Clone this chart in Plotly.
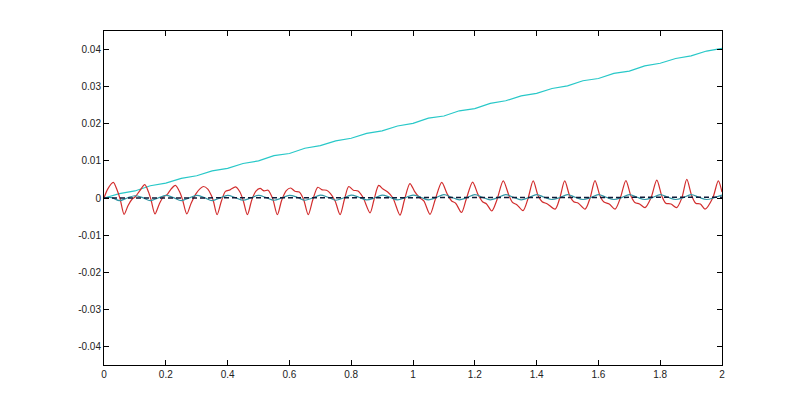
import plotly.graph_objects as go

# red signal (time, value)
red_t = [0.000, 0.012, 0.030, 0.042, 0.052, 0.065, 0.078, 0.090, 0.102, 0.116,
         0.132, 0.144, 0.152, 0.165, 0.179, 0.192, 0.204, 0.217, 0.231, 0.244,
         0.254, 0.268, 0.282, 0.298, 0.312, 0.322, 0.336, 0.348, 0.354, 0.366,
         0.380, 0.393, 0.408, 0.426, 0.440, 0.451, 0.464, 0.478, 0.491, 0.505,
         0.518, 0.531, 0.546, 0.561, 0.575, 0.590, 0.604, 0.618, 0.632, 0.646,
         0.661, 0.676, 0.692, 0.706, 0.720, 0.733, 0.748, 0.764, 0.778, 0.792,
         0.807, 0.822, 0.838, 0.861, 0.874, 0.889, 0.903, 0.918, 0.935, 0.958,
         0.972, 0.990, 1.005, 1.020, 1.035, 1.055, 1.072, 1.093, 1.110, 1.125,
         1.138, 1.157, 1.172, 1.193, 1.210, 1.225, 1.238, 1.255, 1.272, 1.292,
         1.310, 1.322, 1.336, 1.356, 1.372, 1.389, 1.405, 1.418, 1.435, 1.460,
         1.475, 1.491, 1.507, 1.520, 1.535, 1.557, 1.573, 1.589, 1.605, 1.618,
         1.635, 1.654, 1.671, 1.689, 1.705, 1.718, 1.733, 1.751, 1.770, 1.789,
         1.805, 1.818, 1.835, 1.853, 1.870, 1.886, 1.902, 1.915, 1.930, 1.945,
         1.970, 1.988, 2.000]
red_v = [0.0000, 0.0024, 0.0042, 0.0022, -0.0002, -0.0044, -0.0020, -0.0004, 0.0004, 0.0020,
         0.0036, 0.0016, -0.0004, -0.0043, -0.0016, 0.0003, 0.0009, 0.0024, 0.0034, 0.0018,
         -0.0004, -0.0043, -0.0014, 0.0012, 0.0026, 0.0031, 0.0024, 0.0006, -0.0008, -0.0045,
         -0.0008, 0.0018, 0.0022, 0.0030, 0.0016, -0.0008, -0.0045, -0.0006, 0.0018, 0.0026,
         0.0019, 0.0021, -0.0002, -0.0045, -0.0006, 0.0020, 0.0027, 0.0018, 0.0016, -0.0004,
         -0.0045, -0.0004, 0.0029, 0.0022, 0.0021, 0.0012, -0.0008, -0.0045, -0.0004, 0.0031,
         0.0021, 0.0019, 0.0002, -0.0040, -0.0004, 0.0034, 0.0024, 0.0016, 0.0000, -0.0046,
         -0.0006, 0.0039, 0.0018, 0.0002, -0.0008, -0.0044, -0.0004, 0.0042, 0.0012, -0.0008,
         -0.0014, -0.0039, -0.0004, 0.0043, 0.0010, -0.0010, -0.0016, -0.0035, -0.0004, 0.0046,
         0.0008, -0.0012, -0.0018, -0.0034, -0.0002, 0.0046, 0.0006, -0.0010, -0.0016, -0.0030,
         0.0000, 0.0046, 0.0006, -0.0010, -0.0014, -0.0030, 0.0000, 0.0047, 0.0006, -0.0011,
         -0.0016, -0.0030, 0.0000, 0.0047, 0.0006, -0.0012, -0.0016, -0.0026, 0.0000, 0.0048,
         0.0006, -0.0014, -0.0016, -0.0026, 0.0000, 0.0050, 0.0006, -0.0014, -0.0016, -0.0030,
         0.0000, 0.0046, 0.0016]

# rising cyan line, sampled every 0.05
ramp_t = [0.00, 0.05, 0.10, 0.15, 0.20, 0.25, 0.30, 0.35, 0.40, 0.45,
          0.50, 0.55, 0.60, 0.65, 0.70, 0.75, 0.80, 0.85, 0.90, 0.95,
          1.00, 1.05, 1.10, 1.15, 1.20, 1.25, 1.30, 1.35, 1.40, 1.45,
          1.50, 1.55, 1.60, 1.65, 1.70, 1.75, 1.80, 1.85, 1.90, 1.95, 2.00]
ramp_v = [0.0000, 0.0012, 0.0019, 0.0033, 0.0040, 0.0053, 0.0060, 0.0073, 0.0080, 0.0093,
          0.0100, 0.0114, 0.0120, 0.0134, 0.0141, 0.0154, 0.0161, 0.0174, 0.0181, 0.0194,
          0.0201, 0.0215, 0.0221, 0.0235, 0.0241, 0.0255, 0.0262, 0.0275, 0.0282, 0.0295,
          0.0302, 0.0316, 0.0322, 0.0336, 0.0342, 0.0356, 0.0363, 0.0376, 0.0383, 0.0396, 0.0403]

# small teal wiggle around zero, sampled every 0.025
teal_t = [0.000, 0.025, 0.050, 0.075, 0.100, 0.125, 0.150, 0.175, 0.200, 0.225,
          0.250, 0.275, 0.300, 0.325, 0.350, 0.375, 0.400, 0.425, 0.450, 0.475,
          0.500, 0.525, 0.550, 0.575, 0.600, 0.625, 0.650, 0.675, 0.700, 0.725,
          0.750, 0.775, 0.800, 0.825, 0.850, 0.875, 0.900, 0.925, 0.950, 0.975,
          1.000, 1.025, 1.050, 1.075, 1.100, 1.125, 1.150, 1.175, 1.200, 1.225,
          1.250, 1.275, 1.300, 1.325, 1.350, 1.375, 1.400, 1.425, 1.450, 1.475,
          1.500, 1.525, 1.550, 1.575, 1.600, 1.625, 1.650, 1.675, 1.700, 1.725,
          1.750, 1.775, 1.800, 1.825, 1.850, 1.875, 1.900, 1.925, 1.950, 1.975, 2.000]
teal_v = [0.0000, 0.0001, -0.0007, 0.0000, 0.0006, 0.0001, -0.0007, 0.0000, 0.0007, 0.0001,
          -0.0007, 0.0000, 0.0007, 0.0001, -0.0007, 0.0000, 0.0007, 0.0001, -0.0006, 0.0000,
          0.0007, 0.0001, -0.0006, 0.0000, 0.0007, 0.0002, -0.0006, 0.0000, 0.0008, 0.0002,
          -0.0006, 0.0000, 0.0008, 0.0002, -0.0005, 0.0000, 0.0008, 0.0002, -0.0005, 0.0001,
          0.0008, 0.0002, -0.0005, 0.0001, 0.0009, 0.0002, -0.0005, 0.0001, 0.0009, 0.0002,
          -0.0005, 0.0001, 0.0009, 0.0002, -0.0005, 0.0001, 0.0009, 0.0002, -0.0004, 0.0001,
          0.0009, 0.0002, -0.0004, 0.0001, 0.0009, 0.0002, -0.0004, 0.0001, 0.0009, 0.0002,
          -0.0004, 0.0001, 0.0009, 0.0002, -0.0004, 0.0001, 0.0009, 0.0002, -0.0004, 0.0001, 0.0008]

# dark dashed line, practically on zero
base_t = [0.0, 0.5, 1.0, 1.5, 2.0]
base_v = [0.0000, 0.0001, 0.0001, 0.0001, 0.0002]

x_ticks = [0, 0.2, 0.4, 0.6, 0.8, 1, 1.2, 1.4, 1.6, 1.8, 2]
x_labels = ["0", "0.2", "0.4", "0.6", "0.8", "1", "1.2", "1.4", "1.6", "1.8", "2"]
y_ticks = [-0.04, -0.03, -0.02, -0.01, 0, 0.01, 0.02, 0.03, 0.04]
y_labels = ["-0.04", "-0.03", "-0.02", "-0.01", "0", "0.01", "0.02", "0.03", "0.04"]

fig = go.Figure()
fig.add_trace(go.Scatter(x=ramp_t, y=ramp_v, mode="lines",
                         line=dict(color="rgb(40,200,200)", width=1.2)))
fig.add_trace(go.Scatter(x=red_t, y=red_v, mode="lines",
                         line=dict(color="rgb(210,45,45)", width=1.2, shape="spline", smoothing=0.8)))
fig.add_trace(go.Scatter(x=teal_t, y=teal_v, mode="lines",
                         line=dict(color="rgb(50,150,165)", width=1.2, shape="spline")))
fig.add_trace(go.Scatter(x=base_t, y=base_v, mode="lines",
                         line=dict(color="rgb(15,25,55)", width=1.5, dash="5px,3px")))

axis_style = dict(showline=True, linecolor="black", linewidth=1, mirror="allticks",
                  ticks="inside", ticklen=5, tickcolor="black", showgrid=False,
                  zeroline=False, tickfont=dict(family="Liberation Sans, Arial", size=10, color="#222"))

fig.update_xaxes(range=[0, 2], tickvals=x_ticks, ticktext=x_labels, **axis_style)
fig.update_yaxes(range=[-0.045, 0.045], tickvals=y_ticks, ticktext=y_labels, **axis_style)

# the page puts the figure 8px in from the corner, so margins are 8px less on top/left
fig.update_layout(width=800, height=410, showlegend=False,
                  margin=dict(l=96, r=86, t=23, b=53),
                  paper_bgcolor="white", plot_bgcolor="white")

fig.write_html("out.html")
